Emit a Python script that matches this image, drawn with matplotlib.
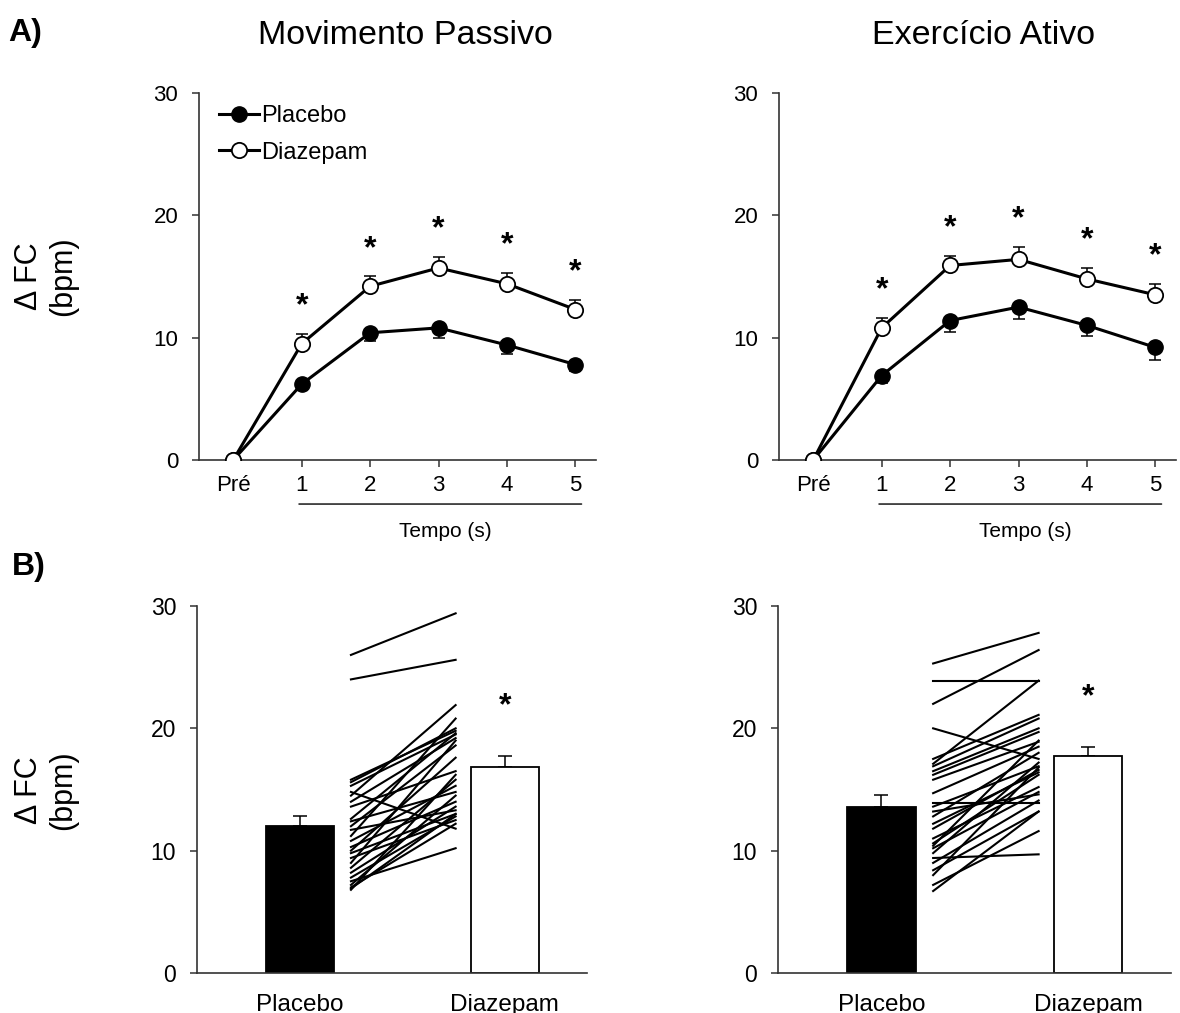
import matplotlib
matplotlib.use("Agg")
import matplotlib.pyplot as plt
import numpy as np

plt.rcParams['font.family'] = ['Liberation Sans', 'DejaVu Sans']

# Painel A: curso temporal da FC (media e EP)
tempos = ['Pré', '1', '2', '3', '4', '5']

passivo_placebo = [0, 6.2, 10.4, 10.8, 9.4, 7.8]
passivo_placebo_ep = [0, 0.3, 0.7, 0.8, 0.7, 0.5]
passivo_diazepam = [0, 9.5, 14.2, 15.7, 14.4, 12.3]
passivo_diazepam_ep = [0, 0.8, 0.8, 0.9, 0.9, 0.8]

ativo_placebo = [0, 6.9, 11.4, 12.5, 11.0, 9.2]
ativo_placebo_ep = [0, 0.6, 0.9, 1.0, 0.9, 1.0]
ativo_diazepam = [0, 10.8, 15.9, 16.4, 14.8, 13.5]
ativo_diazepam_ep = [0, 0.8, 0.8, 1.0, 0.9, 0.9]

# Painel B: media do pico e valores individuais
grupos = ['Placebo', 'Diazepam']
passivo_media = [12.05, 16.8]
passivo_media_ep = [0.8, 0.9]
passivo_ind_placebo = [26.0, 24.0, 15.8, 15.6, 15.3, 14.8, 14.5, 14.0, 13.6, 12.6,
                       12.4, 12.0, 11.7, 11.2, 10.8, 10.3, 10.0, 9.8, 9.4, 9.0,
                       8.6, 8.2, 7.8, 7.5, 7.2, 7.0, 6.8, 6.9]
passivo_ind_diazepam = [29.4, 25.6, 19.8, 20.0, 19.5, 11.8, 21.9, 19.2, 16.5, 19.6,
                        14.8, 18.6, 13.3, 20.8, 15.3, 14.0, 17.6, 13.0, 12.5, 19.0,
                        15.8, 13.6, 12.8, 10.2, 14.5, 12.2, 16.2, 13.0]

ativo_media = [13.6, 17.7]
ativo_media_ep = [0.95, 0.8]
ativo_ind_placebo = [25.3, 22.0, 23.9, 17.1, 20.0, 17.5, 16.9, 16.5, 16.2, 15.8,
                     14.7, 13.9, 13.6, 12.8, 11.8, 11.0, 10.6, 10.2, 9.8, 9.4,
                     9.0, 8.4, 8.0, 7.2, 6.7, 12.2, 10.4, 13.2]
ativo_ind_diazepam = [27.8, 26.4, 23.9, 23.9, 17.5, 21.1, 20.8, 20.0, 19.7, 18.9,
                      18.5, 13.9, 16.9, 18.0, 16.6, 15.2, 16.2, 14.8, 17.2, 9.7,
                      14.1, 13.2, 16.8, 11.6, 13.2, 16.4, 19.0, 14.6]

W, H = 1180, 1013
fig = plt.figure(figsize=(W / 100, H / 100), dpi=100)


def px_axes(x0, y_top, w, h):
    return fig.add_axes([x0 / W, 1 - (y_top + h) / H, w / W, h / H])


def estilo(ax, fs):
    for s in ['top', 'right']:
        ax.spines[s].set_visible(False)
    for s in ['left', 'bottom']:
        ax.spines[s].set_color('#333333')
        ax.spines[s].set_linewidth(1.2)
    ax.set_ylim(0, 30)
    ax.set_yticks([0, 10, 20, 30])
    ax.tick_params(axis='y', direction='out', length=5, width=1.1, color='#333333',
                   labelsize=fs, pad=10)


def asterisco(ax, x, y, fs=23):
    ax.annotate('*', (x, y), xytext=(0, -0.32 * fs), textcoords='offset points',
                ha='center', va='center', fontsize=fs, fontweight='bold')


def painel_a(ax, pla, pla_ep, dia, dia_ep, legenda=False):
    estilo(ax, 16)
    x = np.arange(len(tempos))
    zeros = np.zeros(len(x))
    ax.errorbar(x[1:], pla[1:], yerr=[pla_ep[1:], zeros[1:]], fmt='none', ecolor='k',
                elinewidth=1.1, capsize=4, capthick=1.1, zorder=2)
    ax.errorbar(x[1:], dia[1:], yerr=[zeros[1:], dia_ep[1:]], fmt='none', ecolor='k',
                elinewidth=1.1, capsize=4, capthick=1.1, zorder=2)
    ax.plot(x, pla, '-o', color='k', lw=2.2, ms=11, mfc='k', mec='k', zorder=3, label='Placebo')
    ax.plot(x, dia, '-o', color='k', lw=2.2, ms=11, mfc='w', mec='k', mew=1.3, zorder=4,
            label='Diazepam')
    for i in range(1, len(x)):
        asterisco(ax, x[i], dia[i] + dia_ep[i] + 3.1)
    ax.set_xlim(-0.5, 5.3)
    ax.set_xticks(x, tempos)
    ax.tick_params(axis='x', direction='out', length=5, width=1.1, color='#333333',
                   labelsize=16, pad=6)
    ax.xaxis.get_major_ticks()[0].tick1line.set_visible(False)
    ax.annotate('', xy=(0.96, -0.12), xytext=(5.09, -0.12),
                xycoords=('data', 'axes fraction'), textcoords=('data', 'axes fraction'),
                arrowprops=dict(arrowstyle='-', color='k', lw=1.0, shrinkA=0, shrinkB=0),
                annotation_clip=False)
    ax.text(3.1, -0.196, 'Tempo (s)', transform=ax.get_xaxis_transform(),
            ha='center', va='center', fontsize=15)
    if legenda:
        ax.legend(loc='upper left', bbox_to_anchor=(0.05, 0.967), frameon=False, fontsize=17,
                  handlelength=1.7, handletextpad=0.1, labelspacing=0.62, borderaxespad=0,
                  borderpad=0, numpoints=1)


def painel_b(ax, media, ep, ind_pla, ind_dia):
    estilo(ax, 16.5)
    ax.bar([0, 1], media, width=0.33, color=['k', 'w'], edgecolor='k', linewidth=1.3, zorder=2)
    ax.errorbar([0, 1], media, yerr=[[0, 0], ep], fmt='none', ecolor='k', elinewidth=1.1,
                capsize=5, capthick=1.1, zorder=1)
    for p, d in zip(ind_pla, ind_dia):
        ax.plot([0.25, 0.76], [p, d], color='k', lw=1.5, zorder=3)
    asterisco(ax, 1, media[1] + ep[1] + 4.9)
    ax.set_xlim(-0.5, 1.4)
    ax.set_xticks([0, 1], grupos)
    ax.tick_params(axis='x', length=0, labelsize=17.5, pad=15)


ax1 = px_axes(199, 93, 397, 367)
painel_a(ax1, passivo_placebo, passivo_placebo_ep, passivo_diazepam, passivo_diazepam_ep,
         legenda=True)
ax2 = px_axes(779, 93, 397, 367)
painel_a(ax2, ativo_placebo, ativo_placebo_ep, ativo_diazepam, ativo_diazepam_ep)

ax3 = px_axes(197, 606, 390, 367)
painel_b(ax3, passivo_media, passivo_media_ep, passivo_ind_placebo, passivo_ind_diazepam)
ax4 = px_axes(778, 606, 393, 367)
painel_b(ax4, ativo_media, ativo_media_ep, ativo_ind_placebo, ativo_ind_diazepam)

fig.text(405 / W, 1 - 35 / H, 'Movimento Passivo', ha='center', va='center', fontsize=24.5)
fig.text(984 / W, 1 - 35 / H, 'Exercício Ativo', ha='center', va='center', fontsize=24.5)
fig.text(8 / W, 1 - 33 / H, 'A)', ha='left', va='center', fontsize=23, fontweight='bold')
fig.text(12 / W, 1 - 567 / H, 'B)', ha='left', va='center', fontsize=23, fontweight='bold')
for yc in [276, 790]:
    fig.text(46 / W, 1 - yc / H, 'Δ FC\n(bpm)', rotation=90, ha='center', va='center',
             multialignment='center', fontsize=22)

fig.savefig('out.png', dpi=100, facecolor='white')
